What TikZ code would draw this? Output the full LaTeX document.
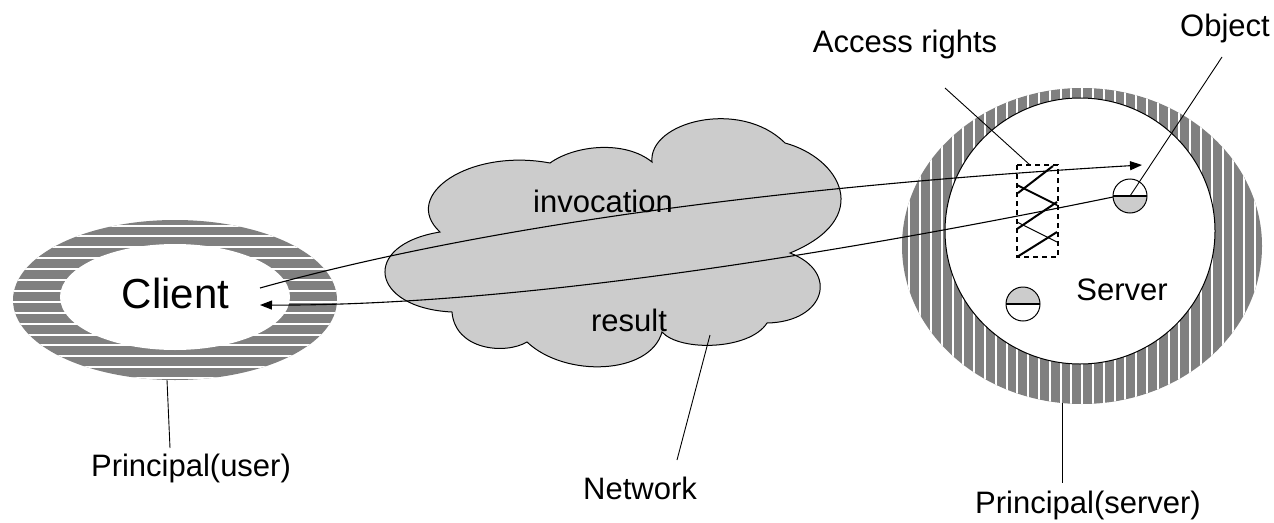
\documentclass[tikz,border=0pt]{standalone}
\usepackage{fontspec}
\setmainfont{Liberation Sans}
\usetikzlibrary{arrows.meta}
\definecolor{ringgray}{HTML}{808080}
\definecolor{cloudgray}{HTML}{CCCCCC}
\tikzset{
  lbl/.style={inner sep=0pt, anchor=base, font=\fontsize{31}{37}\selectfont},
  bigl/.style={inner sep=0pt, anchor=base, font=\fontsize{42}{50}\selectfont},
  pointer/.style={line width=0.9pt, black},
  msg/.style={line width=1.1pt, black, -{Triangle[length=12pt,width=9pt]}},
  stripe/.style={white, line width=2pt},
  half/.style={fill=cloudgray},
  rightsbox/.style={line width=1.8pt, dash pattern=on 5pt off 4pt},
  zig/.style={line width=2pt},
  zigthin/.style={line width=1pt},
}
\begin{document}
\begin{tikzpicture}[x=1pt,y=-1pt]
\path[use as bounding box] (0,0) rectangle (1274,522);

% ---- client principal: horizontally striped ring
\begin{scope}
  \clip (175,300) ellipse [x radius=162, y radius=80];
  \fill[ringgray] (0,200) rectangle (350,400);
  \foreach \k in {-2,...,12} \draw[stripe] (0,247.3+10.9*\k) -- (350,247.3+10.9*\k);
\end{scope}
\fill[white] (175,297) ellipse [x radius=115, y radius=53];
\coordinate (clientc) at (175,297);

% ---- server principal: vertically striped ring
\begin{scope}
  \clip (1082,246) ellipse [x radius=180, y radius=158];
  \fill[ringgray] (890,80) rectangle (1270,410);
  \foreach \k in {-1,...,34} \draw[stripe] (909.3+10.8*\k,80) -- (909.3+10.8*\k,410);
\end{scope}
\draw[fill=white, line width=1pt] (1080,231) ellipse [x radius=135, y radius=133];

% ---- network cloud
\draw[fill=cloudgray, line width=1pt]
  (440,232) .. controls (400,195) and (470,148) .. (550,163)
  .. controls (575,145) and (625,140) .. (652,162)
  .. controls (648,122) and (740,98) .. (785,143)
  .. controls (840,158) and (875,218) .. (790,253)
  .. controls (840,272) and (825,322) .. (767,323)
  .. controls (750,350) and (680,352) .. (662,332)
  .. controls (650,375) and (565,378) .. (527,342)
  .. controls (505,355) and (455,350) .. (452,312)
  .. controls (370,308) and (360,245) .. (440,232) -- cycle;

% ---- access rights list
\draw[rightsbox] (1017,165) rectangle (1058,257);
\draw[zig] (1053,166) -- (1018,193);
\draw[zig] (1017,185) -- (1057,205);
\draw[zig] (1057,202) -- (1017,229);
\draw[zigthin] (1017,222) -- (1057,242);
\draw[zig] (1057,232) -- (1017,257);
\coordinate (rights) at (1030,165);

% ---- objects
\coordinate (obj) at (1130,196);
\fill[half] (obj) ++(17,0) arc[start angle=0, end angle=180, radius=17] -- cycle;
\draw[line width=1pt] (obj) circle[radius=17];
\draw[line width=2pt] (1113,196) -- (1147,196);
\coordinate (obj2) at (1023,304);
\fill[half] (obj2) ++(17,0) arc[start angle=360, end angle=180, radius=17] -- cycle;
\draw[line width=1pt] (obj2) circle[radius=17];
\draw[line width=2pt] (1006,304) -- (1040,304);

% ---- texts
\node[bigl] (client) at (175.5,308) {Client};
\node[lbl] (server) at (1122,300) {Server};
\node[lbl] (inv) at (603,212) {invocation};
\node[lbl] (res) at (629,331) {result};
\node[lbl] (access) at (905,52) {Access rights};
\node[lbl] (object) at (1225,36) {Object};
\node[lbl] (puser) at (191,476) {Principal(user)};
\node[lbl] (net) at (640,499) {Network};
\node[lbl] (pserver) at (1088,513) {Principal(server)};

% ---- invocation and result
\coordinate (invstart) at (260,288);
\coordinate (invend) at (1142,165);
\coordinate (resstart) at (1113,197);
\coordinate (resend) at (260,305);
\draw[msg] (invstart) .. controls (475,228) and (769,187) .. (invend);
\draw[msg] (resstart) .. controls (757,270) and (473,306) .. (resend);

% ---- label pointers
\coordinate (accesstail) at (945,88);
\coordinate (objecttail) at (1222,57);
\coordinate (pusertop) at (167,380);
\coordinate (puserbot) at (170,448);
\coordinate (netin) at (710,335);
\coordinate (netout) at (677,460);
\coordinate (psrvtop) at (1062,403);
\coordinate (psrvbot) at (1062,483);
\draw[pointer] (accesstail) -- (rights);
\draw[pointer] (objecttail) -- (obj);
\draw[pointer] (pusertop) -- (puserbot);
\draw[pointer] (netin) -- (netout);
\draw[pointer] (psrvtop) -- (psrvbot);
\end{tikzpicture}
\end{document}
